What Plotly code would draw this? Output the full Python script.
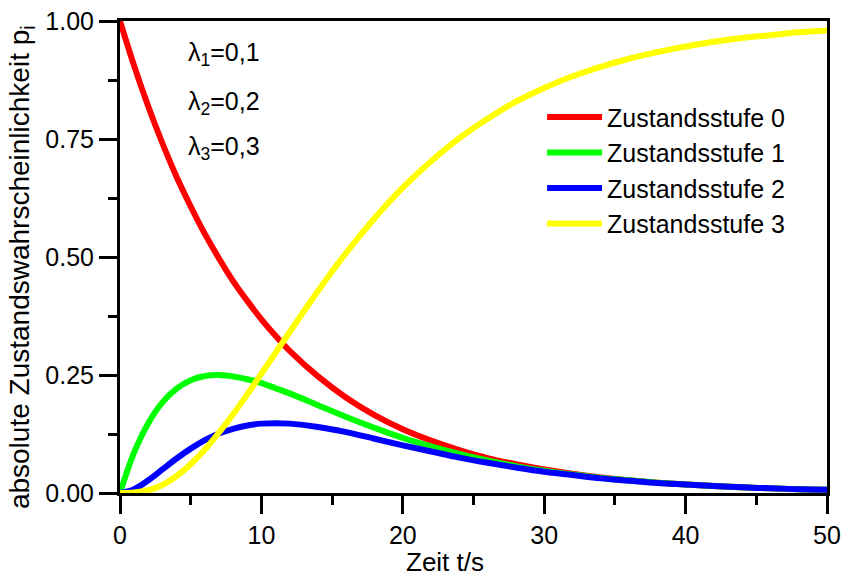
import plotly.graph_objects as go

# Zeit t/s
t = [0, 1, 2, 3, 4, 5, 6, 7, 8, 9, 10, 11, 12, 14, 16, 18, 20, 22, 24, 26, 28,
     30, 32, 34, 36, 38, 40, 42, 44, 46, 48, 50]

p0 = [1.000, 0.905, 0.819, 0.741, 0.670, 0.607, 0.549, 0.497, 0.449, 0.407, 0.368,
      0.333, 0.301, 0.247, 0.202, 0.165, 0.135, 0.111, 0.091, 0.074, 0.061,
      0.050, 0.041, 0.033, 0.027, 0.022, 0.018, 0.015, 0.012, 0.010, 0.008, 0.007]

p1 = [0.000, 0.086, 0.148, 0.192, 0.221, 0.239, 0.248, 0.250, 0.247, 0.241, 0.233,
      0.222, 0.211, 0.186, 0.161, 0.138, 0.117, 0.099, 0.083, 0.069, 0.057,
      0.047, 0.039, 0.032, 0.027, 0.022, 0.018, 0.015, 0.012, 0.010, 0.008, 0.007]

p2 = [0.000, 0.008, 0.027, 0.050, 0.073, 0.094, 0.112, 0.126, 0.136, 0.143, 0.147,
      0.148, 0.147, 0.140, 0.129, 0.115, 0.101, 0.088, 0.075, 0.064, 0.054,
      0.045, 0.038, 0.031, 0.026, 0.021, 0.018, 0.015, 0.012, 0.010, 0.008, 0.007]

p3 = [0.000, 0.001, 0.006, 0.017, 0.036, 0.061, 0.092, 0.128, 0.167, 0.209, 0.253,
      0.297, 0.341, 0.428, 0.509, 0.582, 0.647, 0.703, 0.752, 0.793, 0.829,
      0.858, 0.883, 0.903, 0.920, 0.934, 0.946, 0.956, 0.964, 0.970, 0.976, 0.980]

names = ["Zustandsstufe 0", "Zustandsstufe 1", "Zustandsstufe 2", "Zustandsstufe 3"]
colors = ["#FF0000", "#00FF00", "#0000FF", "#FFFF00"]
series = [p0, p1, p2, p3]

lambda_labels = ["λ<sub>1</sub>=0,1", "λ<sub>2</sub>=0,2", "λ<sub>3</sub>=0,3"]
y_title = "absolute Zustandswahrscheinlichkeit p<sub>i</sub>"
x_title = "Zeit t/s"

FONT = "Liberation Sans, Arial, sans-serif"

fig = go.Figure()
for name, col, ys in zip(names, colors, series):
    fig.add_trace(go.Scatter(x=t, y=ys, mode="lines", name=name,
                             line=dict(color=col, width=6, shape="spline")))

ann_y = [0.93, 0.826, 0.731]
for lab, yy in zip(lambda_labels, ann_y):
    fig.add_annotation(text=lab, xref="paper", yref="paper", x=0.093, y=yy,
                       xanchor="left", yanchor="middle", showarrow=False,
                       font=dict(size=25, color="black", family=FONT))

# axis titles placed as text
fig.add_annotation(text=y_title, xref="paper", yref="paper", x=-0.139, y=0.478,
                   xanchor="center", yanchor="middle", textangle=-90, showarrow=False,
                   font=dict(size=28, color="black", family=FONT))
fig.add_annotation(text=x_title, xref="paper", yref="paper", x=0.46, y=-0.146,
                   xanchor="center", yanchor="middle", showarrow=False,
                   font=dict(size=26, color="black", family=FONT))

axis_common = dict(
    showline=True, linecolor="black", linewidth=3, mirror=True,
    ticks="outside", ticklen=18, tickwidth=3, tickcolor="black",
    showgrid=False, zeroline=False, automargin=False,
    tickfont=dict(size=25, color="black", family=FONT),
)

fig.update_xaxes(range=[0, 50], dtick=10, tick0=0,
                 minor=dict(dtick=5, ticks="outside", ticklen=9, tickwidth=3, tickcolor="black"),
                 **axis_common)
fig.update_yaxes(range=[0, 1], dtick=0.25, tick0=0, tickformat=".2f",
                 minor=dict(dtick=0.125, ticks="outside", ticklen=9, tickwidth=3, tickcolor="black"),
                 **axis_common)

fig.update_layout(
    width=843, height=578,
    margin=dict(l=120, r=16, t=21, b=85),
    plot_bgcolor="white", paper_bgcolor="white",
    font=dict(family=FONT, size=25, color="black"),
    showlegend=True,
    legend=dict(x=0.597, y=0.845, xanchor="left", yanchor="top",
                bgcolor="rgba(0,0,0,0)", font=dict(size=25, family=FONT, color="black"),
                itemwidth=55, tracegroupgap=0),
)

fig.write_html("out.html")
